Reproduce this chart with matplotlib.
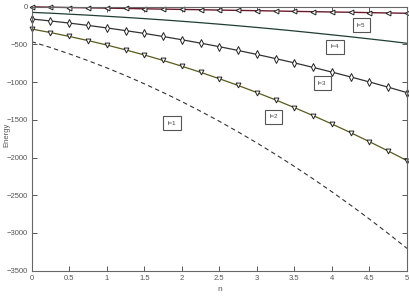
import matplotlib
matplotlib.use("Agg")
import matplotlib.pyplot as plt
from matplotlib import font_manager

# Font: narrow sans if available
names = {f.name for f in font_manager.fontManager.ttflist}
if "Liberation Sans Narrow" in names:
    plt.rcParams["font.family"] = ["Liberation Sans Narrow", "DejaVu Sans"]
else:
    plt.rcParams["font.family"] = ["Liberation Sans", "DejaVu Sans"]

# Data
n = [0, 0.25, 0.5, 0.75, 1, 1.25, 1.5, 1.75, 2, 2.25, 2.5,
     2.75, 3, 3.25, 3.5, 3.75, 4, 4.25, 4.5, 4.75, 5]
e_l1 = [-464, -541, -625, -715, -811, -913, -1022, -1137, -1258, -1386, -1519,
        -1660, -1806, -1959, -2118, -2283, -2454, -2632, -2816, -3007, -3204]
e_l2 = [-296, -343, -394, -449, -508, -572, -640, -712, -789, -870, -955,
        -1044, -1138, -1236, -1338, -1444, -1555, -1670, -1790, -1913, -2041]
e_l3 = [-163, -189, -217, -248, -281, -317, -354, -395, -438, -483, -530,
        -580, -633, -688, -745, -805, -867, -931, -998, -1067, -1139]
e_l4 = [-75, -86, -99, -112, -127, -142, -158, -175, -193, -212, -232,
        -253, -275, -298, -322, -347, -373, -399, -427, -455, -485]
e_l5 = [-2, -6, -11, -15, -19, -23, -28, -32, -36, -40, -45,
        -49, -53, -57, -62, -66, -70, -74, -79, -83, -87]

labels = ["l=1", "l=2", "l=3", "l=4", "l=5"]
label_pos = [(1.87, -1546), (3.22, -1459), (3.87, -1016), (4.04, -530), (4.39, -243)]

xticks = [0, 0.5, 1, 1.5, 2, 2.5, 3, 3.5, 4, 4.5, 5]
yticks = [0, -500, -1000, -1500, -2000, -2500, -3000, -3500]

fig = plt.figure(figsize=(4.10, 2.99), dpi=100)
ax = fig.add_axes([0.0773, 0.0946, 0.9154, 0.883])

mk = dict(mfc="white", mec="#222222", mew=0.7, clip_on=False)
ax.plot(n, e_l1, color="#333333", lw=0.8, ls=(0, (4, 3)))
ax.plot(n, e_l2, color="#5a5a20", lw=0.9, marker="v", ms=3.5, **mk)
ax.plot(n, e_l3, color="#333333", lw=0.9, marker="d", ms=4, **mk)
ax.plot(n, e_l4, color="#1f3d33", lw=0.9)
ax.plot(n, e_l5, color="#6b1a2a", lw=1.0, marker="<", ms=3.5, **mk)

for lab, (x, y) in zip(labels, label_pos):
    ax.text(x, y, lab, fontsize=4.5, ha="center", va="center", color="#444444",
            bbox=dict(boxstyle="square,pad=0.7", fc="white", ec="#555555", lw=0.8))

ax.set_xlim(0, 5)
ax.set_ylim(-3500, 0)
ax.set_xticks(xticks)
ax.set_xticklabels([str(t) for t in xticks])
ax.set_yticks(yticks)
ax.tick_params(direction="in", length=3.5, width=0.7, labelsize=5.5,
               colors="#555555", pad=3, right=True, top=True)
for s in ax.spines.values():
    s.set_color("#666666")
    s.set_linewidth(0.8)

ax.set_xlabel("n", fontsize=6, color="#555555", labelpad=3)
fig.text(0.016, 0.55, "Energy", rotation=90, fontsize=5.5, color="#555555",
         ha="center", va="center")

fig.savefig("out.png", dpi=100)
